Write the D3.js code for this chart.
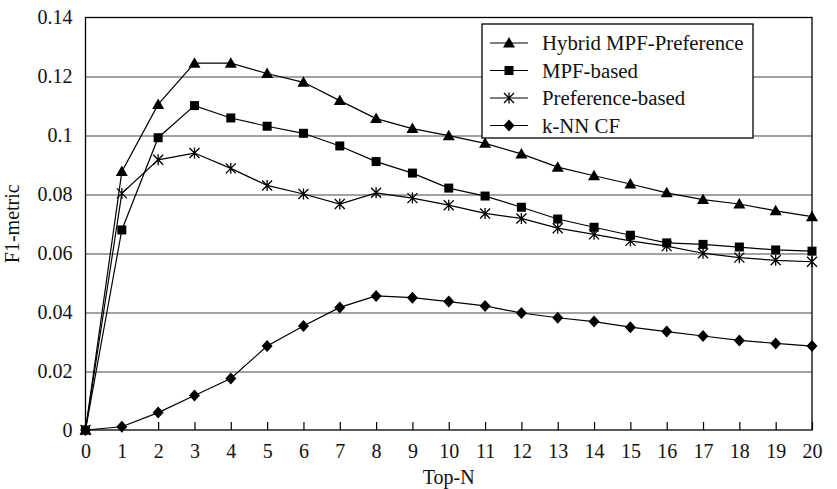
<!DOCTYPE html>
<html>
<head>
<meta charset="utf-8">
<script src="https://cdn.jsdelivr.net/npm/d3@7"></script>
<style>
  body { margin: 0; background: #fff; }
  svg { display: block; font-family: "Liberation Serif", "Times New Roman", serif; }
</style>
</head>
<body>
<div id="chart"></div>
<script>
// Top-N values on the x axis
const topN = d3.range(0, 21);

// F1-metric per series
const hybrid = [0, 0.0877, 0.1105, 0.1245, 0.1245, 0.1210, 0.1180, 0.1118, 0.1057, 0.1023,
  0.0999, 0.0973, 0.0937, 0.0892, 0.0863, 0.0835, 0.0805, 0.0782, 0.0767, 0.0744, 0.0724];
const mpf = [0, 0.0679, 0.0992, 0.1101, 0.1059, 0.1031, 0.1007, 0.0964, 0.0911, 0.0872,
  0.0821, 0.0794, 0.0756, 0.0716, 0.0688, 0.0661, 0.0635, 0.0630, 0.0621, 0.0611, 0.0607];
const preference = [0, 0.0803, 0.0917, 0.0940, 0.0888, 0.0830, 0.0801, 0.0767, 0.0805, 0.0787,
  0.0763, 0.0735, 0.0718, 0.0685, 0.0664, 0.0642, 0.0624, 0.0600, 0.0585, 0.0576, 0.0571];
const knn = [0, 0.0011, 0.0059, 0.0117, 0.0175, 0.0285, 0.0353, 0.0416, 0.0455, 0.0449,
  0.0436, 0.0421, 0.0397, 0.0381, 0.0368, 0.0349, 0.0334, 0.0319, 0.0304, 0.0294, 0.0285];

const seriesNames = ["Hybrid MPF-Preference", "MPF-based", "Preference-based", "k-NN CF"];
const seriesValues = [hybrid, mpf, preference, knn];
const seriesMarkers = ["triangle", "square", "asterisk", "diamond"];

const yTicks = [0, 0.02, 0.04, 0.06, 0.08, 0.1, 0.12, 0.14];

const config = {
  width: 837,
  height: 489,
  margin: { top: 17.5, right: 25, bottom: 59, left: 85.5 }
};

const width = config.width - config.margin.left - config.margin.right;
const height = config.height - config.margin.top - config.margin.bottom;

const svg = d3.select('#chart').append('svg')
  .attr('width', config.width)
  .attr('height', config.height);

const chart = svg.append('g')
  .attr('transform', `translate(${config.margin.left},${config.margin.top})`);

const xScale = d3.scaleLinear().domain([0, 20]).range([0, width]);
const yScale = d3.scaleLinear().domain([0, 0.14]).range([height, 0]);

// gridlines
chart.append('g')
  .selectAll('line')
  .data(yTicks.filter(d => d > 0 && d < 0.14))
  .join('line')
  .attr('x1', 0)
  .attr('x2', width)
  .attr('y1', d => Math.round(yScale(d)) + 0.5)
  .attr('y2', d => Math.round(yScale(d)) + 0.5)
  .attr('stroke', '#444')
  .attr('stroke-width', 1);

// frame
chart.append('rect')
  .attr('x', 0)
  .attr('y', 0)
  .attr('width', width)
  .attr('height', height)
  .attr('fill', 'none')
  .attr('stroke', '#000')
  .attr('stroke-width', 1.3);

// axes
const xAxis = d3.axisBottom(xScale)
  .tickValues(topN)
  .tickFormat(d3.format('d'))
  .tickSizeInner(-8)
  .tickSizeOuter(0)
  .tickPadding(14);

const yAxis = d3.axisLeft(yScale)
  .tickValues(yTicks)
  .tickFormat(d => d === 0 ? '0' : String(+d.toFixed(2)))
  .tickSize(0)
  .tickPadding(13);

const xAxisG = chart.append('g')
  .attr('class', 'axis x-axis')
  .attr('transform', `translate(0,${height})`)
  .call(xAxis)
  .call(g => g.select('.domain').remove());
xAxisG.selectAll('.tick line').attr('stroke', '#000').attr('stroke-width', 1.2);
xAxisG.selectAll('.tick text')
  .attr('font-size', 20)
  .attr('font-family', '"Liberation Serif", serif')
  .attr('fill', '#111');

const yAxisG = chart.append('g')
  .attr('class', 'axis y-axis')
  .call(yAxis)
  .call(g => g.select('.domain').remove());
yAxisG.selectAll('.tick text')
  .attr('font-size', 20)
  .attr('font-family', '"Liberation Serif", serif')
  .attr('fill', '#111');

// axis titles
chart.append('text')
  .attr('x', width / 2)
  .attr('y', height + 54)
  .attr('text-anchor', 'middle')
  .attr('font-size', 20)
  .attr('fill', '#111')
  .text('Top-N');

svg.append('text')
  .attr('transform', `translate(19,${config.margin.top + height / 2}) rotate(-90)`)
  .attr('text-anchor', 'middle')
  .attr('font-size', 20)
  .attr('fill', '#111')
  .text('F1-metric');

// marker drawing
function drawMarker(g, type) {
  if (type === 'triangle') {
    g.append('path').attr('d', 'M0,-6L6,4.5L-6,4.5Z').attr('fill', '#000');
  } else if (type === 'square') {
    g.append('rect').attr('x', -4.5).attr('y', -4.5).attr('width', 9).attr('height', 9).attr('fill', '#000');
  } else if (type === 'diamond') {
    g.append('path').attr('d', 'M0,-6L5.5,0L0,6L-5.5,0Z').attr('fill', '#000');
  } else if (type === 'asterisk') {
    g.append('path')
      .attr('d', 'M-5,-5L5,5M-5,5L5,-5M0,-5.5L0,5.5')
      .attr('stroke', '#000')
      .attr('stroke-width', 1.3)
      .attr('fill', 'none');
  }
}

const line = d3.line()
  .x((d, i) => xScale(topN[i]))
  .y(d => yScale(d))
  .curve(d3.curveLinear);

const chartArea = chart.append('g').attr('class', 'chart-area');

seriesValues.forEach((values, s) => {
  chartArea.append('path')
    .datum(values)
    .attr('class', 'chart-line')
    .attr('fill', 'none')
    .attr('stroke', '#000')
    .attr('stroke-width', 1.2)
    .attr('d', line);

  chartArea.selectAll(`.point-${s}`)
    .data(values)
    .join('g')
    .attr('class', `point-${s}`)
    .attr('transform', (d, i) => `translate(${xScale(topN[i])},${yScale(d)})`)
    .each(function() { drawMarker(d3.select(this), seriesMarkers[s]); });
});

// legend
const legend = chart.append('g')
  .attr('transform', `translate(${width - 330},${6.5})`);

legend.append('rect')
  .attr('x', 0)
  .attr('y', 0)
  .attr('width', 271)
  .attr('height', 114)
  .attr('fill', '#fff')
  .attr('stroke', '#000')
  .attr('stroke-width', 1.3);

seriesNames.forEach((name, i) => {
  const row = legend.append('g')
    .attr('transform', `translate(0,${19 + i * 27.5})`);
  row.append('line')
    .attr('x1', 8).attr('x2', 46)
    .attr('y1', 0).attr('y2', 0)
    .attr('stroke', '#000')
    .attr('stroke-width', 1.2);
  const m = row.append('g').attr('transform', 'translate(27,0)');
  drawMarker(m, seriesMarkers[i]);
  row.append('text')
    .attr('x', 60)
    .attr('y', 7)
    .attr('font-size', 20.8)
    .attr('fill', '#111')
    .text(name);
});
</script>
</body>
</html>
